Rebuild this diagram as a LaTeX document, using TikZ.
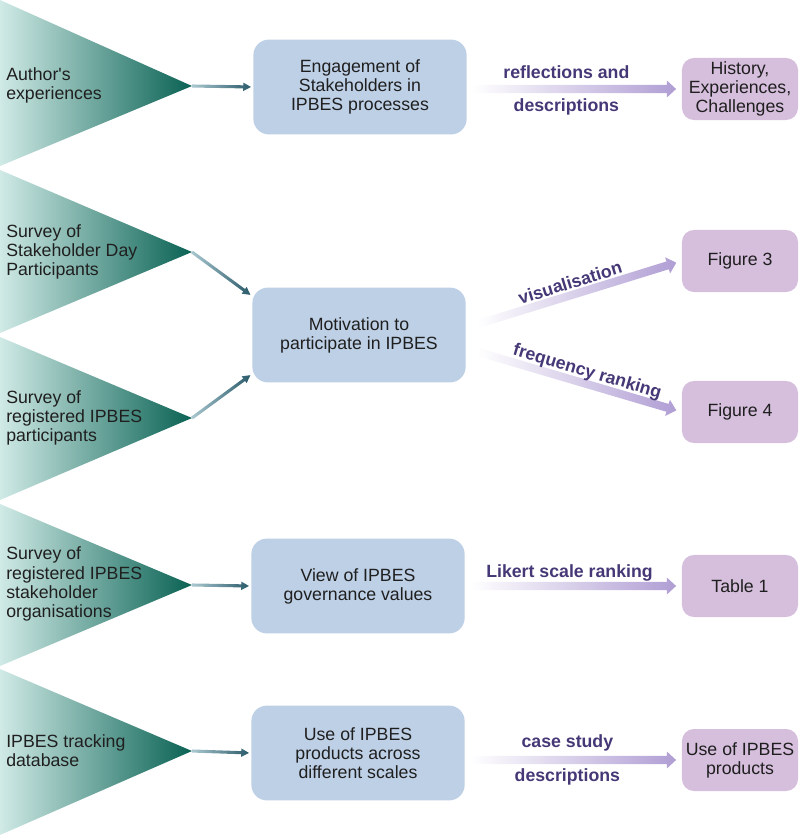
\documentclass[tikz,border=0pt]{standalone}
\usepackage{fontspec}
\setmainfont{Liberation Sans}[Ligatures=TeXOff]
\usepackage{xcolor}
\usepackage{tikz}
\usetikzlibrary{calc, positioning}

\definecolor{tealdark}{RGB}{10,98,84}
\definecolor{tealmid}{RGB}{60,170,154}
\definecolor{teallight}{RGB}{208,234,230}
\definecolor{tealfade}{RGB}{170,200,208}
\definecolor{arrowteal}{RGB}{42,90,106}
\definecolor{boxblue}{RGB}{190,208,230}
\definecolor{boxpurple}{RGB}{214,190,221}
\definecolor{arrowpurple}{RGB}{176,158,212}
\definecolor{labelpurple}{RGB}{70,56,118}

% block arrow: shading, from, to, half shaft, half head, head length, gap
\newcommand{\blockarrow}[7]{%
  \coordinate (ba-s) at (#2);
  \coordinate (ba-e) at ($(#3)!#7!(#2)$);
  \coordinate (ba-h) at ($(ba-e)!#6!(ba-s)$);
  \shade[#1] ($(ba-s)!#4!90:(ba-e)$) -- ($(ba-h)!#4!90:(ba-e)$)
    -- ($(ba-h)!#5!90:(ba-e)$) -- (ba-e)
    -- ($(ba-h)!#5!-90:(ba-e)$) -- ($(ba-h)!#4!-90:(ba-e)$)
    -- ($(ba-s)!#4!-90:(ba-e)$) -- cycle;}
\newcommand{\tealarrow}[2]{\blockarrow{left color=tealfade, right color=arrowteal}{#1}{#2}{1.1pt}{3pt}{5.5pt}{1.5pt}}
\newcommand{\lavarrow}[2]{\blockarrow{left color=white, right color=arrowpurple}{#1}{#2}{2.9pt}{6pt}{6.5pt}{4pt}}

\begin{document}
\begin{tikzpicture}[
  x=0.025cm, y=-0.025cm,
  every node/.style={font=\fontsize{12.6}{13.6}\selectfont, text=black!88},
  source/.style={anchor=west,align=left,inner sep=0pt},
  stage/.style={fill=boxblue,rounded corners=11pt,align=center,minimum width=5.33cm,minimum height=2.37cm},
  result/.style={fill=boxpurple,rounded corners=8.5pt,align=center,minimum width=2.9cm,minimum height=1.55cm,inner sep=1pt},
  method/.style={font=\fontsize{12.6}{13.6}\selectfont\bfseries,text=labelpurple,inner sep=0pt},
  pennant/.style={left color=teallight,middle color=tealmid,right color=tealdark}
]
\useasboundingbox (0,0) rectangle (800,835);
% sources
\shade[pennant] (0,0)   -- (192,86)  coordinate (t1) -- (0,166) -- cycle;
\shade[pennant] (0,170) -- (192,252) coordinate (t2) -- (0,333) -- cycle;
\shade[pennant] (0,337) -- (192,418) coordinate (t3) -- (0,500) -- cycle;
\shade[pennant] (0,504) -- (192,585) coordinate (t4) -- (0,666) -- cycle;
\shade[pennant] (0,669) -- (192,751) coordinate (t5) -- (0,835) -- cycle;
\node[source] (s1) at (6,85)  {Author's\\experiences};
\node[source] (s2) at (6,252) {Survey of\\Stakeholder Day\\Participants};
\node[source] (s3) at (6,418) {Survey of\\registered IPBES\\participants};
\node[source] (s4) at (6,584) {Survey of\\registered IPBES\\stakeholder\\organisations};
\node[source] (s5) at (6,751) {IPBES tracking\\database};
% stages
\node[stage] (b1) at (360,87)  {Engagement of\\Stakeholders in\\IPBES processes};
\node[stage] (b2) at (359,335) {Motivation to\\participate in IPBES};
\node[stage] (b3) at (358,586) {View of IPBES\\governance values};
\node[stage] (b4) at (358,753) {Use of IPBES\\products across\\different scales};
% results
\node[result] (pA) at (740,89)  {History,\\Experiences,\\Challenges};
\node[result] (pB) at (740,261) {Figure 3};
\node[result] (pC) at (740,412) {Figure 4};
\node[result] (pD) at (740,586) {Table 1};
\node[result] (pE) at (740,760) {Use of IPBES\\products};
% inputs
\tealarrow{t1}{b1.west}
\tealarrow{t2}{b2.160}
\tealarrow{t3}{b2.200}
\tealarrow{t4}{b3.west}
\tealarrow{t5}{b4.west}
% methods
\coordinate (m1) at (472,89);
\coordinate (m2) at (478,324);
\coordinate (m3) at (478,352);
\coordinate (m4) at (470,586);
\coordinate (m5) at (470,760);
\lavarrow{m1}{pA.west}
\lavarrow{m2}{pB.west}
\lavarrow{m3}{pC.west}
\lavarrow{m4}{pD.west}
\lavarrow{m5}{pE.west}
\path (m1) -- (pA.west) node[method,pos=0.45,above=7pt] (l1a) {reflections and}
                        node[method,pos=0.45,below=7pt] (l1b) {descriptions};
\path (m2) -- (pB.west) node[method,pos=0.47,sloped,above=4pt] (l2) {visualisation};
\path (m3) -- (pC.west) node[method,pos=0.52,sloped,above=2pt] (l3) {frequency ranking};
\path (m4) -- (pD.west) node[method,pos=0.47,above=3pt] (l4) {Likert scale ranking};
\path (m5) -- (pE.west) node[method,pos=0.46,above=6pt] (l5a) {case study}
                        node[method,pos=0.46,below=6pt] (l5b) {descriptions};
\end{tikzpicture}
\end{document}
